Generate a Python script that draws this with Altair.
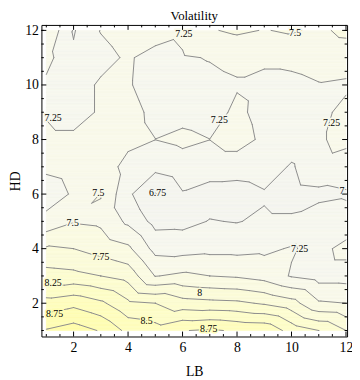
import altair as alt
import pandas as pd

# ---------------- data ----------------
LB = list(range(1, 13))
HD = list(range(1, 13))

# Volatility on the LB x HD grid, one list per HD row (LB = 1..12)
hd1 = [9.02, 9.12, 8.98, 8.68, 8.60, 8.74, 8.78, 8.72, 8.70, 8.40, 8.25, 8.00]
hd2 = [8.60, 8.68, 8.55, 8.30, 8.25, 8.10, 8.07, 8.05, 7.97, 7.85, 7.53, 7.50]
hd3 = [8.10, 8.07, 8.00, 7.90, 7.49, 7.55, 7.50, 7.47, 7.40, 7.23, 7.15, 7.15]
hd4 = [7.78, 7.75, 7.65, 7.55, 7.17, 7.15, 7.18, 7.18, 7.20, 7.27, 7.18, 7.32]
hd5 = [7.33, 7.48, 7.45, 7.20, 6.92, 6.93, 7.01, 6.99, 7.04, 7.04, 7.15, 7.10]
hd6 = [7.12, 7.28, 7.51, 7.05, 6.74, 6.98, 6.90, 6.88, 6.97, 6.90, 6.93, 6.97]
hd7 = [7.30, 7.35, 7.42, 7.15, 7.07, 7.15, 7.12, 7.12, 7.15, 6.97, 7.20, 7.15]
hd8 = [7.30, 7.30, 7.35, 7.33, 7.252, 7.30, 7.252, 7.35, 7.20, 7.15, 7.23, 7.30]
hd9 = [7.23, 7.15, 7.28, 7.32, 7.20, 7.18, 7.15, 7.30, 7.17, 7.18, 7.20, 7.30]
hd10 = [7.20, 7.15, 7.28, 7.27, 7.15, 7.18, 7.20, 7.23, 7.18, 7.20, 7.24, 7.22]
hd11 = [7.33, 7.04, 7.18, 7.28, 7.15, 7.23, 7.26, 7.30, 7.30, 7.30, 7.33, 7.35]
hd12 = [7.48, 6.98, 7.26, 7.35, 7.38, 7.30, 7.48, 7.54, 7.49, 7.53, 7.45, 7.56]
GRID = [hd1, hd2, hd3, hd4, hd5, hd6, hd7, hd8, hd9, hd10, hd11, hd12]

LEVELS = [6.75, 7.0, 7.25, 7.5, 7.75, 8.0, 8.25, 8.5, 8.75, 9.0]

# contour labels
LABEL_LB = [1.25, 6.05, 10.13, 7.35, 11.47, 2.91, 5.08, 11.85, 1.97, 3.0, 10.3, 1.25, 6.63, 1.3, 4.68, 6.96]
LABEL_HD = [8.78, 11.85, 11.89, 8.70, 8.60, 6.03, 6.03, 6.10, 4.94, 3.68, 4.0, 2.74, 2.37, 1.61, 1.33, 1.06]
LABEL_TXT = ["7.25", "7.25", "7.5", "7.25", "7.25", "7.5", "6.75", "7", "7.5", "7.75",
             "7.25", "8.25", "8", "8.75", "8.5", "8.75"]

X_TICKS_MAJOR = [2, 4, 6, 8, 10, 12]
X_TICKS_MINOR = [1, 1.5, 2.5, 3, 3.5, 4.5, 5, 5.5, 6.5, 7, 7.5, 8.5, 9, 9.5, 10.5, 11, 11.5]
Y_TICKS_MAJOR = [2, 4, 6, 8, 10, 12]
Y_TICKS_MINOR = [1, 1.5, 2.5, 3, 3.5, 4.5, 5, 5.5, 6.5, 7, 7.5, 8.5, 9, 9.5, 10.5, 11, 11.5, 12]

# ---------------- style ----------------
BAND_COLORS = ["#F2F4F0", "#F4F5EF", "#F6F7EE", "#F9F9EA", "#FAFAE2", "#FBFBD9",
               "#FCFCD0", "#FDFDC7", "#FEFDBD", "#FEFDB3", "#FFFDA8"]
SERIF = "Liberation Serif"
LINE_COLOR = "#8c8c8c"
W, H = 311, 317
X_DOM = [0.82, 12.04]
Y_DOM = [0.78, 12.2]


# ---------------- piecewise-linear (triangulated) surface ----------------
def value_at(x, y):
    i = min(int(x - 1), 10)
    j = min(int(y - 1), 10)
    fx = x - 1 - i
    fy = y - 1 - j
    v00, v10 = GRID[j][i], GRID[j][i + 1]
    v01, v11 = GRID[j + 1][i], GRID[j + 1][i + 1]
    if fx >= fy:
        return v00 + fx * (v10 - v00) + fy * (v11 - v10)
    return v00 + fy * (v01 - v00) + fx * (v11 - v01)


def band_of(v):
    return sum(1 for L in LEVELS if v >= L)


# filled bands: horizontal runs of constant band
NY, NX = 220, 440
fill_rows = []
for r in range(NY):
    y0 = 1 + 11 * r / NY
    y1 = 1 + 11 * (r + 1) / NY
    yc = (y0 + y1) / 2
    start, cur = 1.0, None
    for c in range(NX):
        xc = 1 + 11 * (c + 0.5) / NX
        b = band_of(value_at(xc, yc))
        if cur is None:
            cur = b
        elif b != cur:
            xe = 1 + 11 * c / NX
            fill_rows.append(dict(x=start, x2=xe, y=y0, y2=y1, band=cur))
            start, cur = xe, b
    fill_rows.append(dict(x=start, x2=12.0, y=y0, y2=y1, band=cur))
fill_df = pd.DataFrame(fill_rows)

# contour lines: marching triangles on the same triangulation
segs = []
for j in range(11):
    for i in range(11):
        p00 = (LB[i], HD[j], GRID[j][i])
        p10 = (LB[i + 1], HD[j], GRID[j][i + 1])
        p01 = (LB[i], HD[j + 1], GRID[j + 1][i])
        p11 = (LB[i + 1], HD[j + 1], GRID[j + 1][i + 1])
        for tri in ((p00, p10, p11), (p00, p11, p01)):
            for L in LEVELS:
                pts = []
                for a, b in ((0, 1), (1, 2), (2, 0)):
                    xa, ya, va = tri[a]
                    xb, yb, vb = tri[b]
                    if (va >= L) != (vb >= L):
                        t = (L - va) / (vb - va)
                        pts.append((xa + t * (xb - xa), ya + t * (yb - ya)))
                if len(pts) == 2:
                    segs.append(dict(x=pts[0][0], y=pts[0][1], x2=pts[1][0], y2=pts[1][1]))
seg_df = pd.DataFrame(segs)

lab_df = pd.DataFrame({"x": LABEL_LB, "y": LABEL_HD, "t": LABEL_TXT})
lab_df["band"] = [band_of(value_at(min(max(a, 1), 12), min(max(b, 1), 12)))
                  for a, b in zip(LABEL_LB, LABEL_HD)]

# ---------------- chart ----------------
xs = alt.Scale(domain=X_DOM, nice=False, zero=False)
ys = alt.Scale(domain=Y_DOM, nice=False, zero=False)
cs = alt.Scale(domain=list(range(11)), range=BAND_COLORS)

x_axis = alt.Axis(values=X_TICKS_MAJOR, ticks=False, domain=False, grid=False, format="d",
                  labelFont=SERIF, labelFontSize=14, labelPadding=4, labelColor="black",
                  title="LB", titleFont=SERIF, titleFontSize=14, titleFontWeight="normal",
                  titlePadding=11, titleColor="black")
y_axis = alt.Axis(values=Y_TICKS_MAJOR, ticks=False, domain=False, grid=False, format="d",
                  labelFont=SERIF, labelFontSize=14, labelPadding=3, labelColor="black",
                  title="HD", titleFont=SERIF, titleFontSize=14, titleFontWeight="normal",
                  titlePadding=2, titleColor="black")

fill = alt.Chart(fill_df).mark_rect(strokeWidth=0.5).encode(
    x=alt.X("x:Q", scale=xs, axis=x_axis),
    x2="x2:Q",
    y=alt.Y("y:Q", scale=ys, axis=y_axis),
    y2="y2:Q",
    color=alt.Color("band:O", scale=cs, legend=None),
    stroke=alt.Stroke("band:O", scale=cs, legend=None),
)

lines = alt.Chart(seg_df).mark_rule(color=LINE_COLOR, strokeWidth=1, strokeCap="round").encode(
    x="x:Q", y="y:Q", x2="x2:Q", y2="y2:Q"
)

halo = alt.Chart(lab_df).mark_text(font=SERIF, fontSize=10, strokeWidth=3).encode(
    x="x:Q", y="y:Q", text="t:N",
    color=alt.Color("band:O", scale=cs, legend=None),
    stroke=alt.Stroke("band:O", scale=cs, legend=None),
)
labels = alt.Chart(lab_df).mark_text(font=SERIF, fontSize=10, color="black").encode(
    x="x:Q", y="y:Q", text="t:N"
)


def xticks(vals, length):
    d = pd.DataFrame({"v": vals})
    bottom = alt.Chart(d).mark_rule(color="black", strokeWidth=1).encode(
        x="v:Q", y=alt.value(H), y2=alt.value(H - length))
    top = alt.Chart(d).mark_rule(color="black", strokeWidth=1).encode(
        x="v:Q", y=alt.value(0), y2=alt.value(length))
    return [bottom, top]


def yticks(vals, length):
    d = pd.DataFrame({"v": vals})
    left = alt.Chart(d).mark_rule(color="black", strokeWidth=1).encode(
        y="v:Q", x=alt.value(0), x2=alt.value(length))
    right = alt.Chart(d).mark_rule(color="black", strokeWidth=1).encode(
        y="v:Q", x=alt.value(W), x2=alt.value(W - length))
    return [left, right]


tick_layers = (xticks(X_TICKS_MAJOR, 5) + xticks(X_TICKS_MINOR, 2.5)
               + yticks(Y_TICKS_MAJOR, 5) + yticks(Y_TICKS_MINOR, 2.5))

chart = alt.layer(fill, lines, halo, labels, *tick_layers).properties(
    width=W,
    height=H,
    title=alt.TitleParams("Volatility", font=SERIF, fontSize=13, fontWeight="normal",
                          anchor="middle", offset=1, color="black"),
    autosize=alt.AutoSizeParams(type="none"),
    padding={"left": 34, "top": 14, "right": 5, "bottom": 40},
).configure_view(stroke="black", strokeWidth=1)

chart.save("out.html", embed_options={"renderer": "svg", "actions": False})
